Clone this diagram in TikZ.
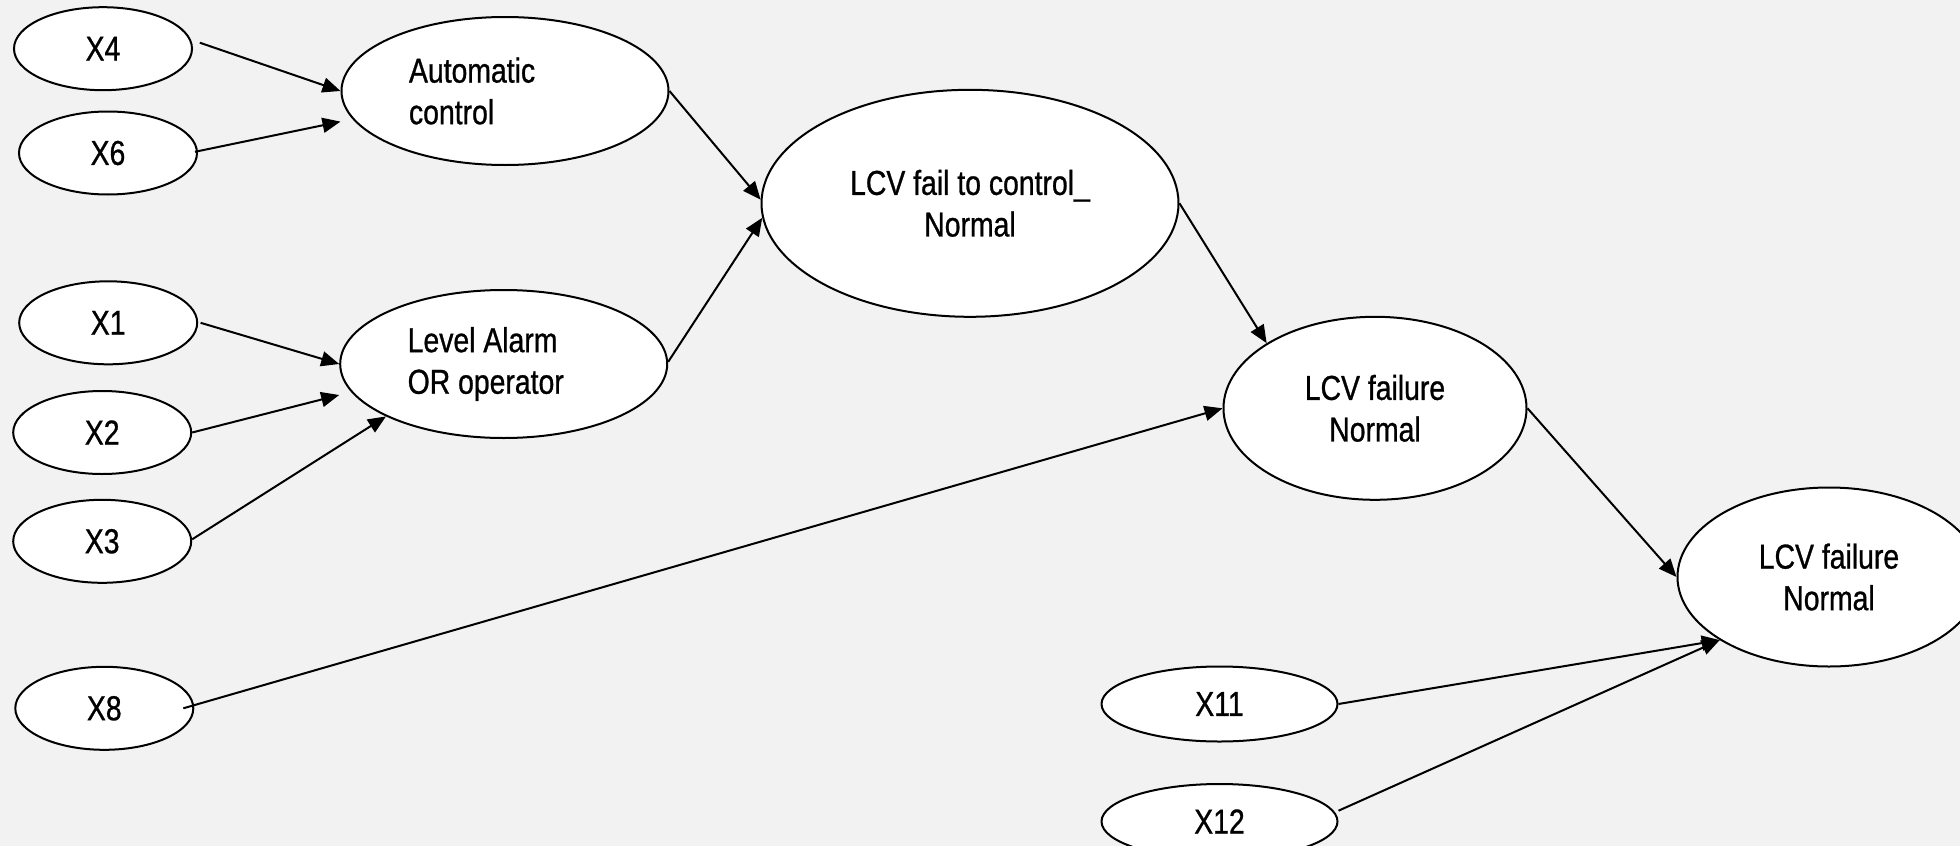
\documentclass[tikz,border=0pt]{standalone}
\usepackage{fontspec}
\setmainfont{Liberation Sans}[FakeStretch=0.82,FakeBold=0.8]
\usetikzlibrary{shapes.geometric,arrows.meta}
\definecolor{bgcol}{HTML}{F2F2F2}
\begin{document}
\begin{tikzpicture}[x=0.5pt,y=-0.5pt,
  every node/.style={font=\fontsize{17.3pt}{20.8pt}\selectfont},
  oval/.style={ellipse,draw=black,line width=1pt,fill=white,inner sep=0pt},
  small/.style={oval,minimum width=89pt,minimum height=41.5pt},
  arr/.style={line width=1pt,-{Triangle[length=9pt,width=7.5pt]}}]
\useasboundingbox (0,0) rectangle (1960,846);
\clip (0,0) rectangle (1960,846);
\fill[bgcol] (0,0) rectangle (1960,846);
% small input nodes
\node[small] (x4) at (103,48.7) {X4};
\node[small] (x6) at (108,153) {X6};
\node[small] (x1) at (108.2,322.8) {X1};
\node[small] (x2) at (102.2,432.5) {X2};
\node[small] (x3) at (102.2,541.3) {X3};
\node[small] (x8) at (104.3,708.3) {X8};
\node[oval,minimum width=118pt,minimum height=37.5pt] (x11) at (1219.5,704) {X11};
\node[oval,minimum width=118pt,minimum height=37.5pt] (x12) at (1219.5,821.5) {X12};
% intermediate nodes
\node[oval,minimum width=163.5pt,minimum height=74pt,text width=96pt,align=flush left] (auto) at (505,91) {Automatic\\control};
\node[oval,minimum width=163.5pt,minimum height=74pt,text width=96pt,align=flush left] (level) at (503.7,364) {Level Alarm\\OR operator};
\node[oval,minimum width=208.5pt,minimum height=113.5pt,align=center] (lcv) at (970,203.3) {LCV fail to control\_\\Normal};
\node[oval,minimum width=151.5pt,minimum height=91.5pt,align=center] (mid) at (1375,408.3) {LCV failure\\Normal};
\node[oval,minimum width=151.5pt,minimum height=89.5pt,align=center] (right) at (1829,577) {LCV failure\\Normal};
% connectors
\draw[arr] ([xshift=3.4pt,yshift=3pt]x4.east) -- (auto.west);
\draw[arr] ([xshift=-1.5pt,yshift=0.6pt]x6.east) -- ([yshift=-15.3pt]auto.west);
\draw[arr] ([xshift=1.2pt]x1.east) -- (level.west);
\draw[arr] (x2.east) -- ([yshift=-15.5pt]level.west);
\draw[arr] ([yshift=1pt]x3.east) -- (level.204);
\draw[arr] ([xshift=-5.5pt]x8.east) -- (mid.west);
\draw[arr] (auto.east) -- (lcv.179);
\draw[arr] ([yshift=1.1pt]level.east) -- (lcv.184.7);
\draw[arr] (lcv.east) -- (mid.149);
\draw[arr] (mid.east) -- (right.west);
\draw[arr] (x11.east) -- (right.210);
\draw[arr] ([yshift=5.4pt]x12.east) -- (right.210);
\end{tikzpicture}
\end{document}
